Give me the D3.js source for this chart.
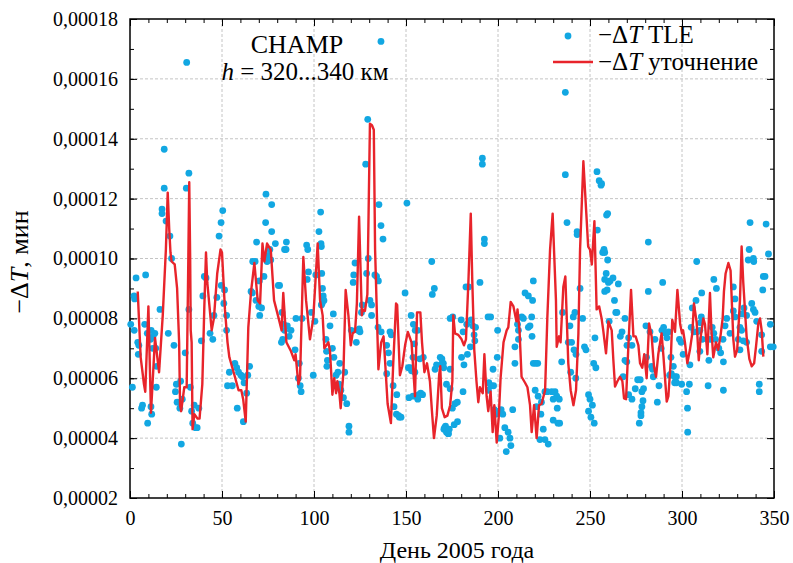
<!DOCTYPE html>
<html>
<head>
<meta charset="utf-8">
<script src="https://cdn.jsdelivr.net/npm/d3@7/dist/d3.min.js"></script>
<style>
  body { margin: 0; background: #fff; }
  svg text { font-family: "Liberation Serif", "Times New Roman", serif; }
</style>
</head>
<body>
<div id="chart"></div>
<script>
// values are in units of 1e-5 min
const tleDays = [0.4,1.3,2.2,2.5,2.3,3.3,4.2,4.8,4.5,6.3,6.8,8,8.5,9.4,9.6,11.4,11.8,11.5,11.2,12.3,12.5,13.5,14,14.5,14.3,16.3,17.4,17.4,18.6,18.6,19.6,20.8,21.7,22.6,23.9,25.2,24.7,25.6,27.5,28.4,27.1,27.9,30,30.6,30.8,32,32,32.8,33.5,34.1,35.6,36.5,34.9,37.4,38.8,39.6,40.4,41.3,43.5,45,45.6,47.2,48.4,49.5,50.4,49.6,51.4,51,52.5,52.5,54,53,55.6,57,58,59,60.3,61.2,62,58.3,61.6,63.4,64,65,65.8,66.5,66.7,68,68.5,68.8,70,71.5,70.3,70.5,72.8,73.7,73.9,74.5,75,76,76.5,77,77,79,80.6,81.3,82.6,83.5,84,84,85,83,82.3,
  84.8,85.5,86.5,87.5,89.7,90.2,92,91.5,92.5,93,93.5,96,96.6,97,96.3,98.6,99.6,100.5,101,102.7,103.6,103.8,104,104.2,104.6,105,105.4,104.4,104,106.5,106.8,107.3,107,108.7,110.5,110,110.8,112,113,114,113.6,114.6,116,117.8,116.7,119,119,120.3,121.3,121.6,122.3,123,124.6,123.8,125,125.8,126.2,128.1,129.2,128.6,129.5,130.4,131.3,133.1,134,135,131.3,135.3,136.4,136.4,137.5,134.8,136.5,139.5,141.3,142,140.5,141.3,139.5,143,145,143.5,144.8,146.4,147.3,146,149.5,150.5,151.3,152.2,153,154.8,151.6,153.8,152.8,154,155,156.4,154.6,153.8,157.5,159.4,157,158,159,156.4,164,164.3,165.4,165.8,166.6,168.6,169.5,170.3,171,172,173,174,174,
  169.6,170.5,172,174,171.5,170.6,173,173.5,176.2,178,175.2,176.6,177.9,181,175.4,180,181,183,185.4,186.3,187.8,180.2,181.5,183.4,182.6,184,190.2,185,187,187.4,191.5,191.5,192.6,192.6,194.6,196,195,196.2,194.8,197.6,197.3,199.8,199.6,198,200.7,202.6,201.7,198.9,201,203.7,205.5,206.5,207,204.5,208,209.2,209.2,211.1,211.1,210.6,212.9,213.8,216.5,217.4,218.3,218.5,219.2,214.7,216.5,218.8,219.2,220.5,221.6,220.2,221.8,223.6,220.9,223.3,224.6,222.8,225.5,227.3,225.5,226.8,229.2,231,230,231.9,233.3,232.2,230,232.6,233.5,234.6,235.1,236.6,236.6,237.5,238.2,239.1,240.9,241.8,240,241.3,242.4,239.5,242.3,243,243,244.6,246,247,247.8,252,253.2,249.2,250,251.3,249.2,250.5,252.3,252.7,253.8,254,255,256,256.9,259,258,259.6,258.8,260,259.3,260.4,
  259.6,256.3,257.6,258,260.9,262.5,258,265.4,263.3,264,264.6,269,266.5,267.4,271,270.1,272.8,269,270,268,271,272.8,274.6,275.9,277.3,278.2,279.1,278.8,278.2,277.7,277.7,276.8,280.4,281.7,281.7,280.7,282.6,283.5,284.4,285.3,284,286.6,287.5,288.7,289.5,289.1,290,291,291.8,292.7,294,295.3,293.3,294.2,296,297,296,297,299.8,300.6,299.5,298.6,302.5,303,303.1,304,304.3,305,305.6,306.5,308.3,309.7,310,310.5,310.7,307.6,308,309.7,311,313.7,314.6,314.2,315.5,316.4,317.3,318.2,317.3,318.7,320,321,322.3,322.5,322.5,323.4,324.3,326.1,327.9,327.9,328.8,328.8,330.6,331.5,331.5,332.4,332.4,333.7,335.1,333.3,335.1,336,338.8,337,336.5,339,337.9,338.8,339.7,340.6,342,342,343.3,343.3,343.9,344.2,345.1,345.7,347,348,348,349.6];
const tleValues = [7.8,5.7,8.75,8.65,7.6,9.35,7.2,7.1,6.8,5.0,5.1,7.8,9.45,7.5,4.5,5.05,4.8,7.6,7.3,7.0,7.4,7.5,7.0,6.4,5.7,8.3,11.65,11.5,13.65,12.35,11.25,7.5,10.75,10.0,7.1,5.8,5.55,5.2,5.9,5.3,5.0,3.8,6.85,12.35,16.55,12.85,8.3,5.7,4.9,4.5,4.35,4.35,5.1,5.0,7.25,8.75,9.4,9.35,7.5,7.3,8.1,8.7,10.75,11.2,11.6,9.1,8.95,8.5,8.1,7.6,6.2,5.75,5.75,6.5,6.35,6.2,6.1,6.05,5.85,5.0,4.55,5.5,6.1,6.4,8.9,8.85,9.9,9.9,8.6,10.55,8.4,8.35,9.25,8.1,9.4,11.2,12.15,9.9,10.1,10.3,9.95,11.8,10.9,10.5,9.1,9.1,8.2,7.8,10.3,7.6,10.55,7.3,7.2,
  10.3,7.75,7.4,7.6,6.95,8.0,6.5,6.0,5.75,5.55,8.0,10.45,10.3,9.55,9.3,8.2,6.1,7.9,9.45,10.9,11.55,10.5,10.4,9.5,9.0,8.75,8.6,8.5,8.45,7.3,6.9,6.6,6.4,7.75,8.15,7.0,6.7,6.1,6.2,6.5,5.8,5.6,5.35,5.15,6.2,4.4,4.2,7.6,9.2,9.45,9.85,7.2,7.65,7.6,7.55,8.2,8.45,13.15,14.65,9.5,10.0,8.6,8.45,9.45,9.4,9.25,8.1,11.8,11.1,17.25,10.65,7.7,7.55,7.1,7.55,7.45,6.85,6.5,6.15,5.75,5.45,5.05,4.8,4.7,4.7,4.75,8.85,11.85,6.35,6.35,6.25,6.2,5.35,5.4,8.1,7.8,7.6,7.6,7.15,6.7,6.65,6.7,5.45,5.5,5.45,5.3,9.9,8.8,9.0,6.3,6.45,6.7,6.65,6.5,4.35,4.2,4.15,6.3,8.0,
  6.5,6.35,5.8,5.65,4.4,4.3,4.15,4.3,4.45,4.55,5.0,5.15,5.2,5.55,8.05,7.95,7.55,7.8,7.95,7.75,7.7,6.7,6.45,6.8,9.05,9.05,9.2,7.05,7.45,7.25,13.35,13.15,10.65,10.5,8.05,8.05,5.85,5.75,5.6,5.75,6.3,7.6,6.7,4.95,4.9,4.8,4.95,4.8,4.0,4.35,4.2,4.0,3.75,3.55,4.95,7.05,6.5,7.3,7.6,7.8,8.05,8.0,7.7,7.75,8.05,7.4,9.25,8.85,8.75,8.6,6.5,6.5,6.5,5.6,5.4,5.2,5.05,4.8,4.3,3.95,3.95,3.8,5.55,5.55,5.55,5.55,5.3,5.4,5.3,5.0,4.6,4.5,4.5,6.55,8.2,15.55,12.8,11.2,7.2,7.75,8.05,8.2,7.2,6.95,6.8,6.2,6.0,10.9,10.8,9.0,8.0,7.05,6.95,6.5,6.35,5.45,5.3,5.1,4.9,4.7,4.5,7.35,12.9,10.95,12.6,12.45,10.2,11.45,10.2,9.95,9.5,9.2,8.95,7.9,
  11.5,12.5,10.3,9.3,9.25,9.35,8.9,9.15,8.6,8.2,8.2,8.0,7.4,7.55,7.35,7.1,7.1,6.6,6.55,6.05,5.45,5.3,5.65,5.95,5.95,5.55,5.65,5.25,5.05,4.85,4.75,4.5,7.75,8.9,10.55,6.7,7.55,6.4,6.05,7.3,6.3,5.2,5.75,7.0,9.2,7.6,7.7,7.5,7.35,7.55,6.7,6.4,6.1,6.15,6.05,6.05,5.85,5.85,5.8,6.8,7.2,7.3,5.55,5.0,4.2,5.8,6.45,7.7,8.35,7.55,7.55,7.6,7.85,8.05,8.85,8.6,9.9,6.9,7.3,7.3,6.6,5.75,7.3,7.7,7.5,7.3,9.3,9.0,7.0,6.85,7.3,6.55,5.6,7.75,8.0,7.5,8.25,9.05,8.65,8.05,7.3,6.95,7.7,7.6,8.15,8.35,8.1,7.25,7.2,9.95,10.0,11.2,10.3,9.9,8.5,8.3,8.2,7.9,5.8,5.55,7.45,6.9,8.95,9.4,9.4,11.15,10.15,7.8,7.05,7.05];

const fitDays = [4.2,5.8,7.6,8.3,10,11.4,13.6,15.8,17.8,19.5,20.5,21.3,22,22.6,24.3,25.6,26.7,27.2,27.8,29.5,30.8,31.5,32.2,32.7,33,33.5,34,35,36.7,37.8,39.3,40.4,41.3,42,44.4,45.6,47.4,49.2,50,51.6,53,54,57,59,60.5,61.5,62.9,64.3,65.8,67.6,69.4,70.7,72,73,74.5,76.5,78.3,81,82.4,83.3,85,87.5,89.3,90,91.5,92.4,94.2,95.7,97.8,99.6,102,103.3,104.7,105.6,107.8,108.7,110,111,112,112.7,113.8,114.5,116,117.2,118.7,120,121,122.3,123.3,124.5,126,126.5,127.7,129,130.4,131.5,132.5,133.2,135,136.5,137.8,138.7,140,141.8,143,144.6,145.2,146.7,148,149.5,151,153,154.9,156,157.8,158.7,160,161.4,163,164.1,165.2,166.7,168,168.6,169.5,171,172.5,174,175.2,175.7,176.6,178.4,180.2,181.5,182.6,183.9,185.2,186,187.1,188.3,189.3,190.2,191.7,192.6,193.8,194.7,196,197.1,198,199.3,200.4,201.4,203,204.7,205.6,206.9,208.4,210,210.6,211.7,212.8,214.7,216,217.4,218.3,219.6,221,222.3,223.7,225.6,226.8,228.3,229.7,230.5,231.5,231.9,233.2,234,235.5,236.6,238.2,239.5,241,242.4,243.7,244.6,246.4,248,249,250,251,252.4,253.6,255,256.3,257.2,258.7,260,261.8,262.7,263.6,264.9,266.3,267.6,268.5,269.6,270.8,272.3,273.6,274.8,276.3,277.2,278.4,279.5,280.8,282.1,283.5,284.8,285.9,287.1,288.9,289.9,291.7,292.6,293.9,294.7,296.2,297.5,299,300,300.6,301.6,302.9,304.3,305.6,306.5,308,309.1,310.2,311.6,312.5,313.8,315.2,316,317,318.5,319.7,321,322.1,322.8,323.7,325.2,326.4,327.9,328.8,330,331.5,332.4,333.3,335.1,336.6,337.9,339.2,340.2,341.5,342.4,343.3,344.2];
const fitValues = [8.9,6.7,5.8,5.55,8.4,4.85,7.35,6.2,8.1,10.3,12.2,11.0,10.2,9.9,9.8,9.0,7.2,5.1,4.9,5.7,5.7,9.0,12.55,10.0,7.6,7.2,4.3,4.8,4.65,4.65,5.8,8.4,10.2,9.2,7.6,8.0,9.5,10.3,10.2,8.3,7.2,6.7,6.05,5.6,5.6,5.3,4.55,7.7,8.9,9.85,8.6,8.5,10.5,9.9,10.5,10.3,8.6,7.95,7.6,8.85,7.2,6.9,6.6,6.8,5.8,6.0,10.05,8.6,7.3,8.0,10.5,8.6,8.1,7.0,7.2,6.9,5.45,6.0,5.5,5.9,5.5,5.0,6.2,8.95,8.1,7.1,7.5,7.55,8.5,11.4,8.1,8.3,8.25,8.8,14.5,14.45,14.3,10.3,6.3,7.2,7.4,6.5,5.15,4.5,6.4,8.5,8.45,6.1,6.4,7.1,7.55,7.2,5.4,8.2,8.2,7.2,6.2,6.5,5.9,4.9,4.0,4.75,6.1,6.4,5.0,4.7,4.75,5.1,5.9,8.1,7.5,7.45,7.3,7.1,7.3,9.2,11.5,9.3,6.95,5.9,5.2,5.7,5.5,6.8,5.4,4.9,5.55,4.2,5.1,3.85,4.7,6.0,7.2,7.6,7.7,8.55,8.4,7.9,8.3,7.6,6.05,5.85,5.7,5.1,4.2,5.1,4.0,5.1,5.15,5.6,8.0,10.3,11.5,10.2,8.6,7.05,7.4,7.2,9.05,9.4,6.5,5.6,5.1,5.6,7.5,10.3,13.25,11.5,10.4,10.3,9.8,11.25,8.3,8.4,8.0,7.6,6.83,7.9,7.6,6.6,5.72,5.9,6.05,5.9,5.33,5.3,7.0,8.95,7.4,7.4,7.1,6.5,6.35,6.8,6.0,7.83,7.4,6.38,6.05,6.8,7.5,6.75,5.22,5.4,6.6,7.95,7.55,8.95,7.8,7.5,7.6,7.2,6.5,6.95,7.5,8.5,7.85,6.6,7.4,8.0,7.8,6.8,8.85,7.6,6.7,7.2,6.95,7.45,8.0,8.9,9.5,9.85,9.6,7.3,6.72,6.95,8.6,10.4,9.2,7.4,6.65,6.4,6.5,7.05,7.83,8.0,7.6,6.72];

const xTicks = [0, 50, 100, 150, 200, 250, 300, 350];
const yTicks = [2, 4, 6, 8, 10, 12, 14, 16, 18];

const width = 793, height = 563;
const plotL = 130, plotR = 774, plotT = 19, plotB = 498;
const dotColor = "#12a7e2";
const lineColor = "#e8242b";
const serif = "'Liberation Serif', 'Times New Roman', serif";

const svg = d3.select("#chart").append("svg")
    .attr("width", width)
    .attr("height", height);

const x = d3.scaleLinear().domain([0, 350]).range([plotL, plotR]);
const y = d3.scaleLinear().domain([2, 18]).range([plotB, plotT]);

//grid
const grid = svg.append("g")
    .attr("stroke", "#c4c4c4")
    .attr("stroke-width", 1)
    .attr("stroke-dasharray", "3,2");
grid.selectAll(".gx").data(xTicks.slice(1, -1)).enter().append("line")
    .attr("x1", d => x(d)).attr("x2", d => x(d))
    .attr("y1", plotT).attr("y2", plotB);
grid.selectAll(".gy").data(yTicks.slice(1, -1)).enter().append("line")
    .attr("x1", plotL).attr("x2", plotR)
    .attr("y1", d => y(d)).attr("y2", d => y(d));

//axes with inward ticks on all sides
const minorX = d3.range(0, 351, 10);
const minorY = d3.range(2, 18.01, 1);
const fmtY = d => d3.format(".5f")(d * 1e-5).replace(".", ",");

svg.append("g").attr("transform", `translate(0,${plotB})`)
    .call(d3.axisBottom(x).tickValues(minorX).tickSize(-4).tickFormat(""));
svg.append("g").attr("transform", `translate(0,${plotB})`)
    .call(d3.axisBottom(x).tickValues(xTicks).tickSize(-7).tickPadding(13).tickFormat(d3.format("d")));
svg.append("g").attr("transform", `translate(0,${plotT})`)
    .call(d3.axisTop(x).tickValues(minorX).tickSize(-4).tickFormat(""));
svg.append("g").attr("transform", `translate(0,${plotT})`)
    .call(d3.axisTop(x).tickValues(xTicks).tickSize(-7).tickFormat(""));
svg.append("g").attr("transform", `translate(${plotL},0)`)
    .call(d3.axisLeft(y).tickValues(minorY).tickSize(-4).tickFormat(""));
svg.append("g").attr("transform", `translate(${plotL},0)`)
    .call(d3.axisLeft(y).tickValues(yTicks).tickSize(-7).tickPadding(12).tickFormat(fmtY));
svg.append("g").attr("transform", `translate(${plotR},0)`)
    .call(d3.axisRight(y).tickValues(minorY).tickSize(-4).tickFormat(""));
svg.append("g").attr("transform", `translate(${plotR},0)`)
    .call(d3.axisRight(y).tickValues(yTicks).tickSize(-7).tickFormat(""));

svg.selectAll(".domain").remove();
svg.selectAll(".tick line").attr("stroke", "#000").attr("stroke-width", 1);
svg.selectAll(".tick text")
    .attr("fill", "#000")
    .style("font-family", serif)
    .style("font-size", "20px");

svg.append("rect")
    .attr("x", plotL).attr("y", plotT)
    .attr("width", plotR - plotL).attr("height", plotB - plotT)
    .attr("fill", "none").attr("stroke", "#000").attr("stroke-width", 1.5);

//data
const tle = tleDays.map((d, i) => ({ day: d, v: tleValues[i] }));
const fit = fitDays.map((d, i) => ({ day: d, v: fitValues[i] }));

svg.append("g").selectAll("circle").data(tle).enter().append("circle")
    .attr("cx", d => x(d.day))
    .attr("cy", d => y(d.v))
    .attr("r", 3.4)
    .attr("fill", dotColor);

const line = d3.line().x(d => x(d.day)).y(d => y(d.v));
svg.append("path")
    .datum(fit)
    .attr("d", line)
    .attr("fill", "none")
    .attr("stroke", lineColor)
    .attr("stroke-width", 2.4)
    .attr("stroke-linejoin", "round");

//helper for the −ΔT label pieces
function deltaT(sel, rest) {
    sel.append("tspan").text("\u2212\u0394");
    sel.append("tspan").style("font-style", "italic").text("T");
    sel.append("tspan").text(rest);
}

//title block
svg.append("text")
    .attr("x", 297).attr("y", 53)
    .attr("text-anchor", "middle")
    .style("font-family", serif).style("font-size", "26px")
    .text("CHAMP");
const hText = svg.append("text")
    .attr("x", 305).attr("y", 80)
    .attr("text-anchor", "middle")
    .style("font-family", serif).style("font-size", "25px");
hText.append("tspan").style("font-style", "italic").text("h");
hText.append("tspan").text(" = 320...340 км");

//legend
svg.append("circle")
    .attr("cx", 568).attr("cy", 36).attr("r", 3.4)
    .attr("fill", dotColor);
svg.append("line")
    .attr("x1", 553).attr("x2", 593)
    .attr("y1", 62).attr("y2", 62)
    .attr("stroke", lineColor).attr("stroke-width", 2.4);

const leg1 = svg.append("text").attr("x", 598).attr("y", 43)
    .style("font-family", serif).style("font-size", "25px");
deltaT(leg1, " TLE");
const leg2 = svg.append("text").attr("x", 598).attr("y", 70)
    .style("font-family", serif).style("font-size", "25px");
deltaT(leg2, " уточнение");

//axis titles
svg.append("text")
    .attr("x", 457).attr("y", 558)
    .attr("text-anchor", "middle")
    .style("font-family", serif).style("font-size", "24px")
    .text("День 2005 года");

const yTitle = svg.append("text")
    .attr("transform", `translate(28,262) rotate(-90)`)
    .attr("text-anchor", "middle")
    .style("font-family", serif).style("font-size", "26px");
deltaT(yTitle, ", мин");
</script>
</body>
</html>
